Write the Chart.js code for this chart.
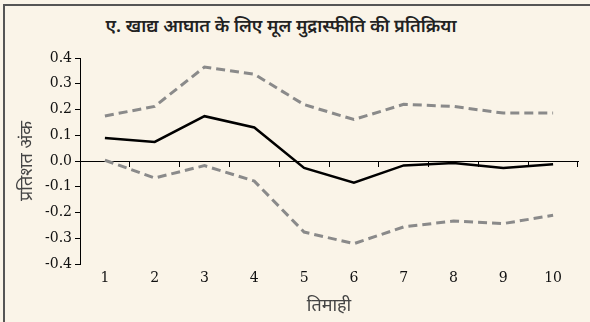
<!DOCTYPE html>
<html>
<head>
<meta charset="utf-8">
<script src="https://cdn.jsdelivr.net/npm/chart.js@4"></script>
<style>
  html, body { margin: 0; padding: 0; background: #faf4e8; }
  #wrap { position: relative; width: 590px; height: 322px; overflow: hidden; }
  #frame { position: absolute; left: 3px; top: 4px; width: 700px; height: 400px;
           border-left: 2px solid #555; border-top: 2px solid #555; }
  #title { position: absolute; left: 15px; width: 532px; top: 16px; text-align: center;
           font: 600 18px "Noto Sans Devanagari", "Noto Sans", sans-serif; color: #222; }
  canvas { position: absolute; left: 0; top: 0; }
</style>
</head>
<body>
<div id="wrap">
  <div id="frame"></div>
  <div id="title">ए. खाद्य आघात के लिए मूल मुद्रास्फीति की प्रतिक्रिया</div>
  <canvas id="irfChart" width="590" height="322"></canvas>
</div>
<script>
// quarters after the shock
const quarters = ["1", "2", "3", "4", "5", "6", "7", "8", "9", "10"];
// core inflation response (percentage points)
const response = [0.089, 0.074, 0.174, 0.130, -0.027, -0.084, -0.017, -0.008, -0.027, -0.013];
const upperBand = [0.175, 0.212, 0.365, 0.337, 0.219, 0.161, 0.220, 0.212, 0.186, 0.186];
const lowerBand = [0.003, -0.066, -0.018, -0.078, -0.276, -0.321, -0.256, -0.233, -0.243, -0.211];
const yTicks = [-0.4, -0.3, -0.2, -0.1, 0.0, 0.1, 0.2, 0.3, 0.4];

const serif = { family: "'DejaVu Serif', serif", size: 14 };
const deva = { family: "'Noto Sans Devanagari', 'Noto Sans', sans-serif", size: 18 };

const bandStyle = {
  borderColor: "#8a8a8a",
  borderWidth: 3,
  borderDash: [9, 5],
  pointRadius: 0,
  tension: 0,
  fill: false,
};

new Chart(document.getElementById("irfChart"), {
  type: "line",
  data: {
    labels: quarters,
    datasets: [
      { label: "upper", data: upperBand, ...bandStyle },
      { label: "lower", data: lowerBand, ...bandStyle },
      {
        label: "response",
        data: response,
        borderColor: "#000",
        borderWidth: 2.5,
        pointRadius: 0,
        tension: 0,
        fill: false,
      },
    ],
  },
  options: {
    responsive: false,
    animation: false,
    layout: { padding: { top: 58, right: 12, bottom: 0, left: 0 } },
    plugins: { legend: { display: false }, tooltip: { enabled: false } },
    scales: {
      x: {
        type: "category",
        offset: true,
        grid: { display: false, drawTicks: false },
        border: { display: false },
        ticks: { color: "#111", font: serif, padding: 6, maxRotation: 0 },
        title: { display: true, text: "तिमाही", color: "#444", font: deva, padding: { top: 2, bottom: 4 } },
        afterFit: (scale) => { scale.height = 58; },
      },
      xZero: {
        type: "category",
        axis: "x",
        labels: quarters,
        offset: true,
        position: { y: 0 },
        grid: { drawOnChartArea: false, drawTicks: true, tickLength: 5, offset: true, color: "#000" },
        border: { display: true, color: "#000", width: 1 },
        ticks: { display: false },
      },
      y: {
        min: -0.4,
        max: 0.4,
        afterBuildTicks: (scale) => { scale.ticks = yTicks.map((v) => ({ value: v })); },
        grid: { drawOnChartArea: false, drawTicks: true, tickLength: 5, color: "#000" },
        border: { display: true, color: "#000", width: 1 },
        ticks: {
          color: "#111",
          font: serif,
          padding: 3,
          callback: (v) => Number(v).toFixed(1),
        },
        title: { display: true, text: "प्रतिशत अंक", color: "#444", font: deva, padding: { top: 18, bottom: 4 } },
        afterFit: (scale) => { scale.width = 80; },
      },
    },
  },
});
</script>
</body>
</html>
